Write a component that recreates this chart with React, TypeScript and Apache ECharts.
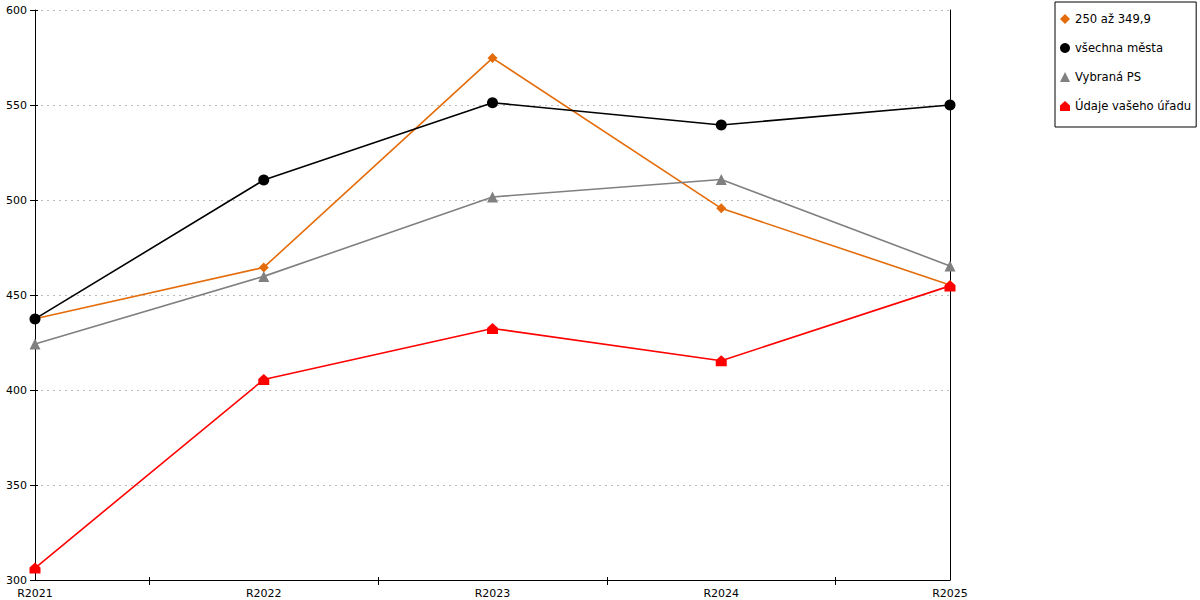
import React, { useEffect, useRef } from "react";
import * as echarts from "echarts";

const categories = ["R2021", "R2022", "R2023", "R2024", "R2025"];
const seriesNames = ["250 až 349,9", "všechna města", "Vybraná PS", "Údaje vašeho úřadu"];
const orangeValues = [437.5, 464.5, 574.7, 495.6, 455.3];
const blackValues = [437.4, 510.5, 551.2, 539.5, 550.0];
const grayValues = [424.2, 459.8, 501.6, 510.8, 465.3];
const redValues = [306.3, 405.5, 432.4, 415.4, 454.8];
const yTicks = { min: 300, max: 600, interval: 50 };

const HOUSE = "path://M5,0 L10,4.5 L10,10 L0,10 L0,4.5 Z";
const FONT = "DejaVu Sans";
const FS = 11;

export default function App() {
  const ref = useRef<HTMLDivElement>(null);
  useEffect(() => {
    if (!ref.current) return;
    const chart = echarts.init(ref.current, undefined, { renderer: "svg" });
    const grid = { left: 35, right: 250, top: 10, bottom: 20 };
    const mk = (name: string, data: number[], color: string, symbol: string, size: number) => ({
      name,
      type: "line",
      data,
      xAxisIndex: 0,
      yAxisIndex: 0,
      symbol,
      symbolSize: size,
      itemStyle: { color },
      lineStyle: { color, width: 1.6 },
      emphasis: { disabled: true },
    });
    chart.setOption({
      animation: false,
      textStyle: { fontFamily: FONT },
      grid,
      legend: {
        orient: "vertical",
        left: 1055,
        top: 2,
        padding: [10, 5, 14, 5],
        itemGap: 15,
        itemWidth: 10,
        itemHeight: 10,
        borderColor: "#000",
        borderWidth: 1,
        borderRadius: 0,
        textStyle: { fontFamily: FONT, fontSize: 11.6, color: "#000", lineHeight: 14 },
        data: [
          { name: seriesNames[0], icon: "diamond" },
          { name: seriesNames[1], icon: "circle" },
          { name: seriesNames[2], icon: "triangle" },
          { name: seriesNames[3], icon: HOUSE },
        ],
      },
      xAxis: [
        {
          type: "category",
          data: categories,
          boundaryGap: false,
          axisLine: { lineStyle: { color: "#000", width: 1 } },
          axisTick: { show: false },
          axisLabel: { color: "#000", fontSize: FS, fontFamily: FONT, margin: 8 },
          splitLine: { show: false },
        },
        {
          type: "category",
          data: ["", "", "", ""],
          boundaryGap: true,
          position: "bottom",
          axisLine: { show: false },
          axisTick: { show: true, alignWithLabel: true, length: 5, lineStyle: { color: "#000" } },
          axisLabel: { show: false },
          splitLine: { show: false },
        },
        {
          type: "category",
          data: ["", "", "", ""],
          boundaryGap: true,
          position: "bottom",
          axisLine: { show: false },
          axisTick: { show: true, inside: true, alignWithLabel: true, length: 3, lineStyle: { color: "#000" } },
          axisLabel: { show: false },
          splitLine: { show: false },
        },
      ],
      yAxis: [
        {
          type: "value",
          ...yTicks,
          position: "left",
          axisLine: { show: true, lineStyle: { color: "#000", width: 1 } },
          axisTick: { show: true, length: 5, lineStyle: { color: "#000" } },
          axisLabel: { color: "#000", fontSize: FS, fontFamily: FONT, margin: 8 },
          splitLine: { show: true, lineStyle: { color: "#bbb", type: [2, 4], width: 1 } },
        },
        {
          type: "value",
          ...yTicks,
          position: "left",
          axisLine: { show: false },
          axisTick: { show: true, inside: true, length: 3, lineStyle: { color: "#000" } },
          axisLabel: { show: false },
          splitLine: { show: false },
        },
        {
          type: "value",
          ...yTicks,
          position: "right",
          axisLine: { show: true, lineStyle: { color: "#000", width: 1 } },
          axisTick: { show: false },
          axisLabel: { show: false },
          splitLine: { show: false },
        },
      ],
      series: [
        mk(seriesNames[0], orangeValues, "#E46C0A", "diamond", 10),
        mk(seriesNames[1], blackValues, "#000000", "circle", 11),
        mk(seriesNames[2], grayValues, "#808080", "triangle", 11),
        mk(seriesNames[3], redValues, "#FF0000", HOUSE, 11),
      ],
    });
    return () => chart.dispose();
  }, []);
  return (
    <div
      ref={ref}
      style={{ position: "fixed", left: 0, top: 0, width: 1200, height: 600, background: "#fff" }}
    />
  );
}
